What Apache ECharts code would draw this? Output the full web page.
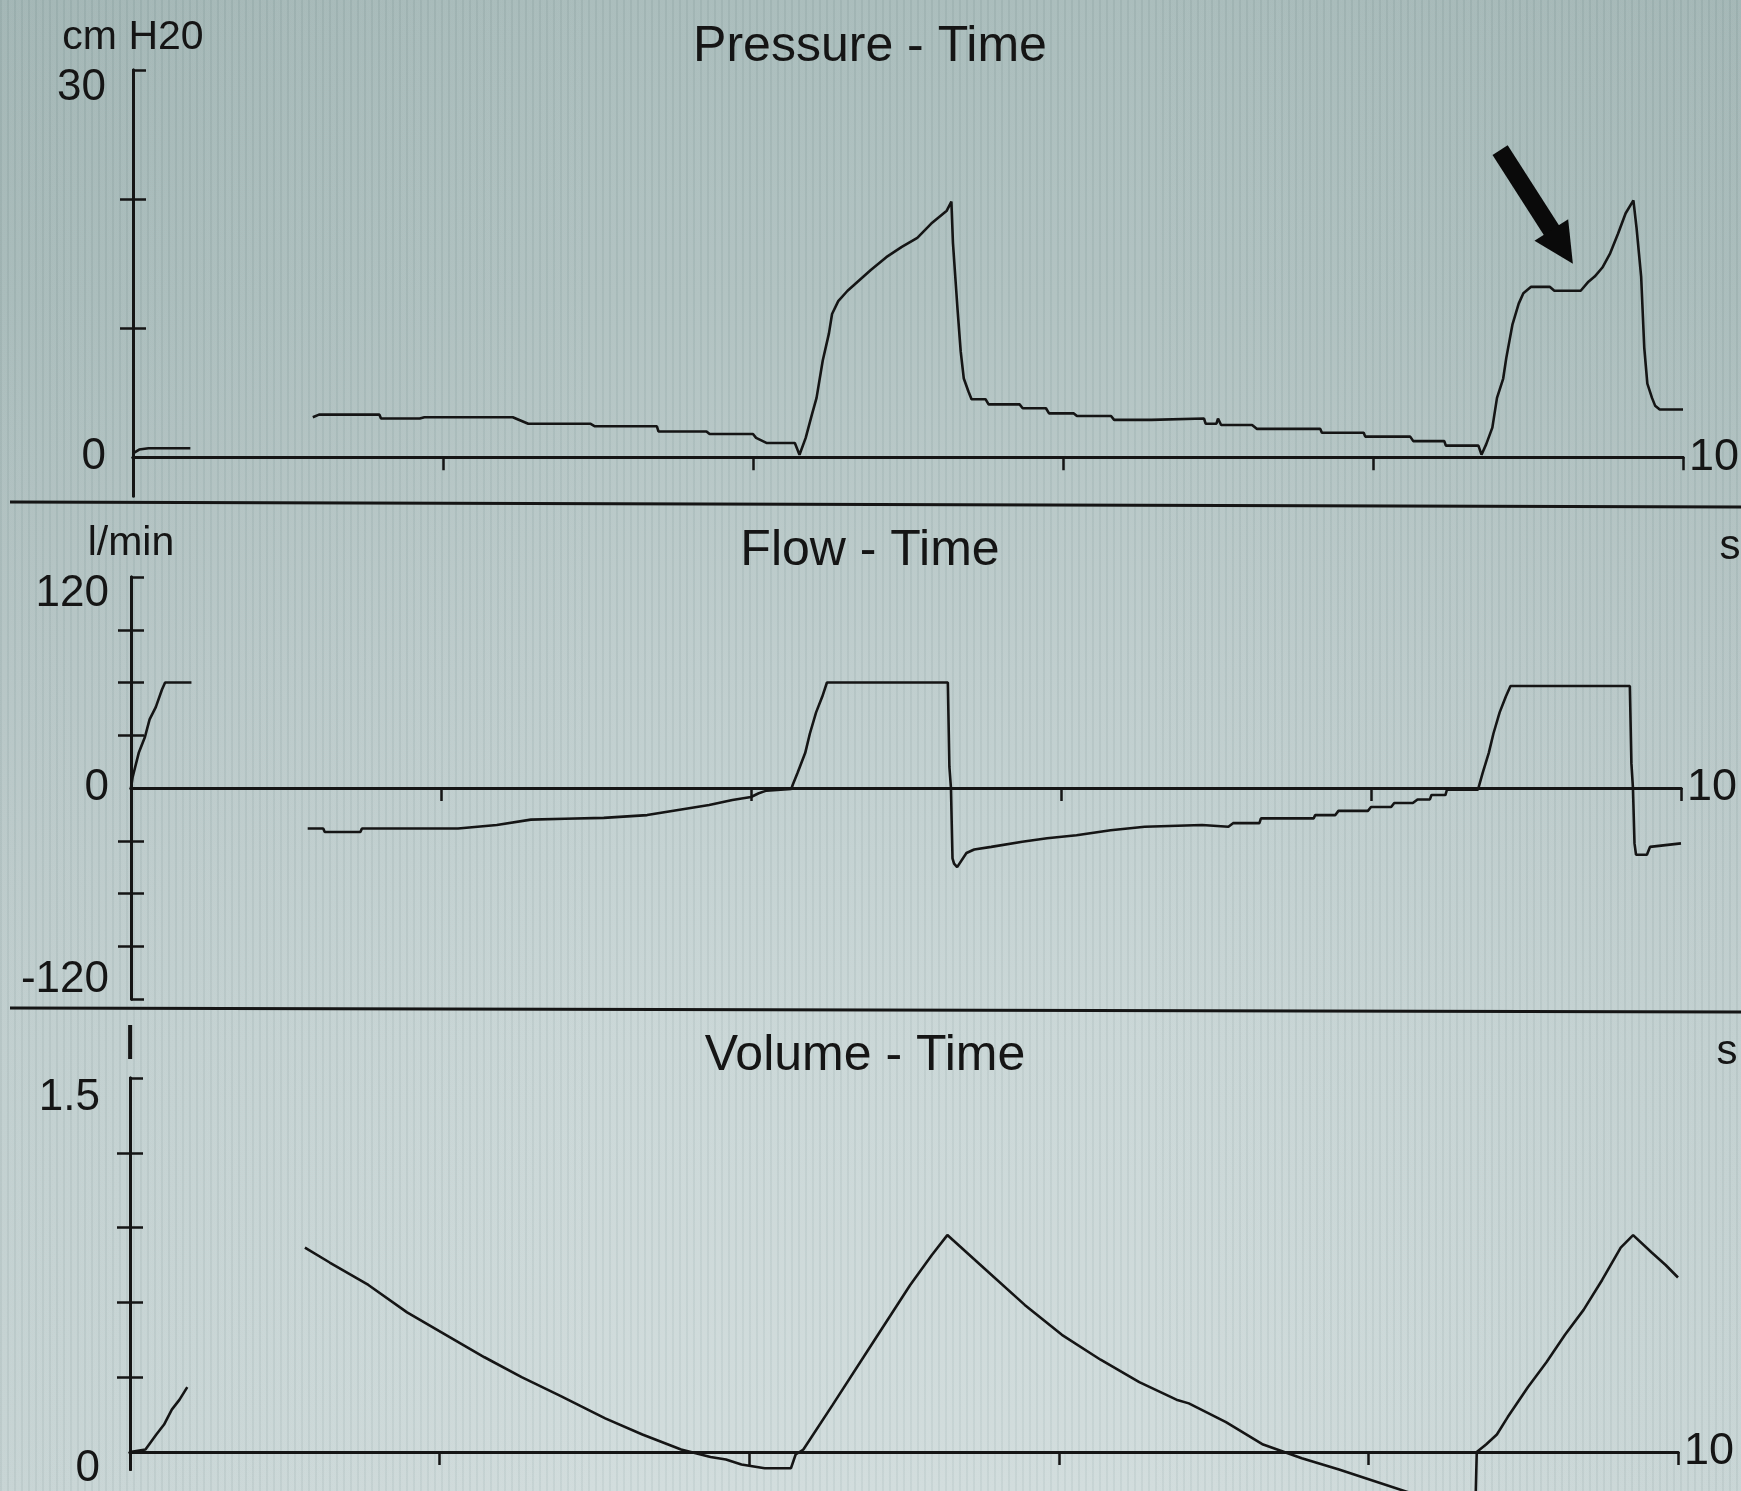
<!DOCTYPE html>
<html>
<head>
<meta charset="utf-8">
<script src="https://cdn.jsdelivr.net/npm/echarts@6/dist/echarts.min.js"></script>
<style>
html,body{margin:0;padding:0;}
#bg{position:absolute;left:0;top:0;width:1741px;height:1491px;
 background:
  repeating-linear-gradient(90deg, rgba(40,70,70,0.05) 0px, rgba(40,70,70,0.05) 2px, rgba(255,255,255,0.04) 2px, rgba(255,255,255,0.04) 7px),
  linear-gradient(90deg, rgba(60,90,90,0.07) 0%, rgba(255,255,255,0) 35%, rgba(255,255,255,0) 65%, rgba(60,90,90,0.06) 100%),
  linear-gradient(180deg, #a8bbba 0%, #afc1c0 20%, #bdcccc 45%, #c9d6d6 70%, #d0dcdc 100%);}
#chart{position:absolute;left:0;top:0;width:1741px;height:1491px;}
</style>
</head>
<body>
<div id="bg"></div>
<div id="chart"></div>
<script>
// ---------------- data ----------------
const timeTicks = [2, 4, 6, 8, 10];
const timeEndLabel = '10';
const timeUnit = 's';

const panelTitles = ['Pressure - Time', 'Flow - Time', 'Volume - Time'];
const unitNames = ['cm H20', 'l/min', 'l'];

const pressureTime = [0, 0.04, 0.1, 0.37, 0.8, 1.16, 1.2, 1.59, 1.6, 1.85, 1.88, 2.45, 2.55, 2.95, 2.98, 3.38, 3.39, 3.70, 3.72, 4.0, 4.02, 4.09, 4.27, 4.30, 4.34, 4.38, 4.41, 4.45, 4.49, 4.51, 4.55, 4.61, 4.76, 4.86, 4.96, 5.06, 5.15, 5.25, 5.28, 5.29, 5.32, 5.34, 5.36, 5.39, 5.41, 5.50, 5.52, 5.72, 5.74, 5.89, 5.91, 6.07, 6.09, 6.31, 6.33, 6.57, 6.91, 6.92, 6.99, 7.0, 7.02, 7.22, 7.25, 7.66, 7.67, 7.94, 7.95, 8.24, 8.26, 8.46, 8.47, 8.68, 8.70, 8.73, 8.77, 8.80, 8.84, 8.86, 8.90, 8.94, 8.97, 9.02, 9.14, 9.17, 9.34, 9.39, 9.43, 9.48, 9.53, 9.58, 9.63, 9.68, 9.70, 9.73, 9.75, 9.77, 9.80, 9.82, 9.85, 10.0];
const pressureValues = [0.3, 0.6, 0.7, 0.7, null, 3.1, 3.3, 3.3, 3.0, 3.0, 3.1, 3.1, 2.6, 2.6, 2.4, 2.4, 2.0, 2.0, 1.8, 1.8, 1.5, 1.1, 1.1, 0.2, 1.5, 3.3, 4.6, 7.5, 9.6, 11.1, 12.1, 12.9, 14.5, 15.5, 16.3, 17.0, 18.1, 19.1, 19.8, 16.6, 11.4, 8.2, 6.1, 5.1, 4.5, 4.5, 4.1, 4.1, 3.8, 3.8, 3.4, 3.4, 3.2, 3.2, 2.9, 2.9, 3.0, 2.6, 2.6, 3.0, 2.5, 2.5, 2.2, 2.2, 1.9, 1.9, 1.6, 1.6, 1.25, 1.25, 0.9, 0.9, 0.2, 1.0, 2.3, 4.6, 6.1, 7.7, 10.3, 11.9, 12.7, 13.2, 13.2, 12.9, 12.9, 13.6, 14.0, 14.7, 15.8, 17.3, 18.9, 19.9, 17.8, 14.0, 8.5, 5.7, 4.6, 4.0, 3.7, 3.7];

const flowTime = [0, 0.01, 0.05, 0.09, 0.12, 0.16, 0.20, 0.22, 0.39, 0.8, 1.14, 1.24, 1.25, 1.48, 1.49, 2.11, 2.36, 2.58, 2.8, 3.05, 3.33, 3.53, 3.73, 3.88, 4.0, 4.05, 4.10, 4.26, 4.27, 4.30, 4.35, 4.38, 4.42, 4.46, 4.49, 5.27, 5.28, 5.29, 5.30, 5.31, 5.33, 5.39, 5.44, 5.55, 5.75, 5.91, 6.10, 6.32, 6.54, 6.91, 7.08, 7.11, 7.28, 7.29, 7.63, 7.64, 7.77, 7.79, 7.98, 8.0, 8.13, 8.15, 8.27, 8.30, 8.38, 8.39, 8.48, 8.49, 8.69, 8.70, 8.72, 8.76, 8.79, 8.83, 8.87, 8.90, 9.67, 9.68, 9.69, 9.70, 9.71, 9.78, 9.80, 10.0];
const flowValues = [0, 6, 20, 29, 39, 46, 56, 60, 60, null, -23, -23, -25, -25, -23, -23, -21, -18, -17.5, -17, -15.4, -12.5, -9.7, -6.8, -5.1, -3, -1.5, -0.5, 2, 8.5, 20, 31, 43, 52, 60, 60, 12, 0, -40, -43, -45, -37, -35, -33.5, -30.6, -28.6, -26.9, -24, -22, -21, -22, -20, -20, -17.3, -17.3, -15.4, -15.4, -13, -13, -10.8, -10.8, -8.5, -8.5, -6.5, -6.5, -4, -4, -1, -1, 0, 8.5, 20, 31, 43, 52, 58, 58, 14, 0, -31.5, -38, -38, -33.5, -31.5];

const volumeTime = [0, 0.1, 0.17, 0.22, 0.27, 0.32, 0.37, 0.8, 1.13, 1.29, 1.54, 1.79, 2.04, 2.29, 2.53, 2.78, 3.07, 3.31, 3.56, 3.75, 3.85, 3.95, 4.1, 4.27, 4.30, 4.35, 4.54, 4.79, 5.04, 5.18, 5.28, 5.53, 5.78, 6.02, 6.27, 6.52, 6.76, 6.84, 7.08, 7.32, 7.57, 7.81, 8.69, 8.70, 8.76, 8.83, 8.90, 9.03, 9.15, 9.27, 9.39, 9.51, 9.63, 9.71, 9.83, 9.92, 10.0];
const volumeValues = [0, 0.01, 0.07, 0.11, 0.17, 0.21, 0.26, null, 0.82, 0.76, 0.67, 0.56, 0.47, 0.38, 0.30, 0.225, 0.135, 0.07, 0.01, -0.02, -0.03, -0.05, -0.065, -0.065, -0.01, 0.01, 0.19, 0.43, 0.67, 0.79, 0.87, 0.73, 0.59, 0.47, 0.37, 0.28, 0.21, 0.195, 0.12, 0.03, -0.025, -0.07, -0.25, 0, 0.03, 0.07, 0.14, 0.26, 0.36, 0.47, 0.57, 0.69, 0.82, 0.87, 0.8, 0.75, 0.7];

const pressureTicks = [10, 20];
const pressureCaps = [30];
const pressureLabelValues = [0, 30];
const pressureLabelTexts = ['0', '30'];

const flowTicks = [-90, -60, -30, 30, 60, 90];
const flowCaps = [-120, 120];
const flowLabelValues = [-120, 0, 120];
const flowLabelTexts = ['-120', '0', '120'];

const volumeTicks = [0.3, 0.6, 0.9, 1.2];
const volumeCaps = [1.5];
const volumeLabelValues = [0, 1.5];
const volumeLabelTexts = ['0', '1.5'];

// annotation arrow (data coordinates of the pressure panel)
const arrowFrom = [8.82, 23.8];
const arrowTo = [9.22, 16.3];

// ---------------- styling / layout ----------------
const INK = '#151515';
const FONT = '"Liberation Sans", Arial, sans-serif';
const NUMFONT = '"Liberation Sans Narrow", "Liberation Sans", Arial, sans-serif';

function pairs(ts, vs) { return ts.map((t, i) => [t, vs[i] === null ? '-' : vs[i]]); }

const panels = [
  { grid: {left: 133, right: 58, top: 70, bottom: 995}, min: -3, max: 30,
    ticks: pressureTicks, caps: pressureCaps, lv: pressureLabelValues, lt: pressureLabelTexts,
    shifts: [0, 18], margin: 27, nameGap: 12, nameSize: 41 },
  { grid: {left: 131, right: 60, top: 577, bottom: 492}, min: -120, max: 120,
    ticks: flowTicks, caps: flowCaps, lv: flowLabelValues, lt: flowLabelTexts,
    shifts: [-19, 0, 17], margin: 22, nameGap: 13, nameSize: 41 },
  { grid: {left: 130, right: 63, top: 1078, bottom: 6}, min: -0.07, max: 1.5,
    ticks: volumeTicks, caps: volumeCaps, lv: volumeLabelValues, lt: volumeLabelTexts,
    shifts: [17, 20], margin: 30, nameGap: 9, nameSize: 46 }
];

const grids = [], xAxes = [], yAxes = [];
panels.forEach((p, k) => {
  grids.push(Object.assign({containLabel: false}, p.grid));
  const line = {color: INK, width: 3};
  const tick = {color: INK, width: 2.5};
  xAxes.push({
    type: 'value', gridIndex: k, min: 0, max: 10,
    axisLine: {show: true, onZero: true, onZeroAxisIndex: 2 * k, lineStyle: line},
    axisTick: {show: true, customValues: timeTicks, length: 13, lineStyle: tick},
    axisLabel: {show: false}, splitLine: {show: false},
    name: timeEndLabel, nameLocation: 'end', nameGap: 6,
    nameTextStyle: {fontFamily: NUMFONT, fontSize: 45, color: INK, align: 'left', verticalAlign: 'middle'}
  });
  xAxes.push({
    type: 'value', gridIndex: k, min: 0, max: 10,
    axisLine: {show: true, onZero: true, onZeroAxisIndex: 2 * k, lineStyle: line},
    axisTick: {show: true, inside: true, customValues: timeTicks, length: 13, lineStyle: tick},
    axisLabel: {show: false}, splitLine: {show: false}
  });
  const rich = {};
  p.lv.forEach((v, i) => {
    const s = p.shifts[i];
    rich['s' + i] = {
      fontFamily: NUMFONT, fontSize: 44, color: INK,
      padding: s >= 0 ? [2 * s, 0, 0, 0] : [0, 0, -2 * s, 0]
    };
  });
  yAxes.push({
    type: 'value', gridIndex: k, min: p.min, max: p.max, position: 'left',
    axisLine: {show: true, onZero: false, lineStyle: line},
    axisTick: {show: true, customValues: p.ticks, length: 13, lineStyle: tick},
    axisLabel: {
      show: true, customValues: p.lv, margin: p.margin,
      formatter: function (v) {
        const i = p.lv.indexOf(v);
        return i < 0 ? '' : '{s' + i + '|' + p.lt[i] + '}';
      },
      rich: rich
    },
    splitLine: {show: false},
    name: unitNames[k], nameLocation: 'end', nameGap: p.nameGap,
    nameTextStyle: {fontFamily: FONT, fontSize: p.nameSize, color: INK}
  });
  yAxes.push({
    type: 'value', gridIndex: k, min: p.min, max: p.max, position: 'left',
    axisLine: {show: true, onZero: false, lineStyle: line},
    axisTick: {show: true, inside: true, customValues: p.ticks.concat(p.caps), length: 13, lineStyle: tick},
    axisLabel: {show: false}, splitLine: {show: false}
  });
});

const traceStyle = {color: INK, width: 2.6};
const series = [
  { type: 'line', xAxisIndex: 0, yAxisIndex: 0, data: pairs(pressureTime, pressureValues),
    showSymbol: false, symbol: 'none', connectNulls: false, clip: false, lineStyle: traceStyle,
    markLine: {
      silent: true, animation: false, symbol: ['none', 'triangle'], symbolSize: 40,
      label: {show: false}, lineStyle: {color: '#0a0a0a', width: 18, type: 'solid', opacity: 1},
      itemStyle: {color: '#0a0a0a', opacity: 1},
      data: [[
        {coord: arrowFrom, symbol: 'none'},
        {coord: arrowTo, symbol: 'triangle', symbolSize: 40, itemStyle: {color: '#0a0a0a'}}
      ]]
    } },
  { type: 'line', xAxisIndex: 2, yAxisIndex: 2, data: pairs(flowTime, flowValues),
    showSymbol: false, symbol: 'none', connectNulls: false, clip: false, lineStyle: traceStyle },
  { type: 'line', xAxisIndex: 4, yAxisIndex: 4, data: pairs(volumeTime, volumeValues),
    showSymbol: false, symbol: 'none', connectNulls: false, clip: false, lineStyle: traceStyle }
];

const titleBase = {padding: 0, textAlign: 'center', textVerticalAlign: 'middle'};
const titleStyle = {fontFamily: FONT, fontSize: 50, fontWeight: 'normal', color: INK};
const unitStyle = {fontFamily: FONT, fontSize: 42, fontWeight: 'normal', color: INK};
const titles = [
  Object.assign({text: panelTitles[0], left: 870, top: 47, textStyle: titleStyle}, titleBase),
  Object.assign({text: panelTitles[1], left: 870, top: 551, textStyle: titleStyle}, titleBase),
  Object.assign({text: panelTitles[2], left: 865, top: 1056, textStyle: titleStyle}, titleBase),
  Object.assign({text: timeUnit, left: 1730, top: 547, textStyle: unitStyle}, titleBase),
  Object.assign({text: timeUnit, left: 1727, top: 1052, textStyle: unitStyle}, titleBase)
];

const chart = echarts.init(document.getElementById('chart'), null, {renderer: 'canvas'});
chart.setOption({
  backgroundColor: 'transparent',
  animation: false,
  title: titles,
  grid: grids,
  xAxis: xAxes,
  yAxis: yAxes,
  series: series,
  graphic: [
    {type: 'line', shape: {x1: 10, y1: 502, x2: 1741, y2: 507}, style: {stroke: INK, lineWidth: 3}, silent: true},
    {type: 'line', shape: {x1: 10, y1: 1008, x2: 1741, y2: 1012}, style: {stroke: INK, lineWidth: 3}, silent: true}
  ]
});
</script>
</body>
</html>
